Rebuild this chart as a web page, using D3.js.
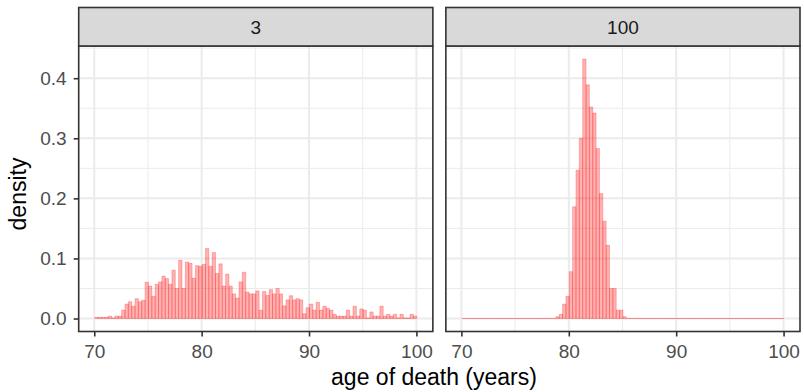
<!DOCTYPE html>
<html>
<head>
<meta charset="utf-8">
<script src="https://cdn.jsdelivr.net/npm/d3@7"></script>
<style>
  body { margin: 0; background: #fff; }
  svg { display: block; font-family: "Liberation Sans", Arial, sans-serif; }
</style>
</head>
<body>
<div id="chart"></div>
<script>
// facet labels
const facets = ['3', '100'];

// histogram bins (years)
const binStart = 70.05;
const binWidth = 0.3123;

const xTicks = [70, 80, 90, 100];
const yTicks = [0, 0.1, 0.2, 0.3, 0.4];

// density per bin, facet "3"
const density3 = [
    0.002, 0.002, 0.002, 0.002, 0.004, 0.001, 0.004, 0.004, 0.014, 0.024, 0.028, 0.0205,
    0.033, 0.028, 0.0305, 0.0605, 0.054, 0.037, 0.057, 0.061, 0.0705, 0.0665, 0.057, 0.0805,
    0.05, 0.097, 0.05, 0.094, 0.092, 0.067, 0.088, 0.087, 0.090, 0.1167, 0.087, 0.110,
    0.075, 0.091, 0.054, 0.074, 0.054, 0.041, 0.034, 0.061, 0.077, 0.044, 0.041, 0.041,
    0.046, 0.0138, 0.045, 0.0385, 0.048, 0.041, 0.050, 0.041, 0.021, 0.031, 0.038, 0.031,
    0.033, 0.031, 0.008, 0.018, 0.024, 0.014, 0.027, 0.014, 0.0205, 0.017, 0.014, 0.007,
    0.004, 0.004, 0.004, 0.014, 0.004, 0.0205, 0.004, 0.016, 0.014, 0.001, 0.011, 0.004,
    0.004, 0.0205, 0.004, 0.007, 0.004, 0.007, 0.001, 0.007, 0.001, 0.001, 0.007, 0.004
];

// density per bin, facet "100"
const density100 = [
    0, 0, 0, 0, 0, 0, 0, 0, 0, 0, 0, 0,
    0, 0, 0, 0, 0, 0, 0, 0, 0, 0, 0, 0,
    0, 0, 0, 0, 0.003, 0.007, 0.024, 0.037, 0.078, 0.186, 0.247, 0.300,
    0.432, 0.389, 0.352, 0.342, 0.283, 0.208, 0.162, 0.122, 0.050, 0.050, 0.014, 0.014,
    0.003, 0, 0, 0, 0, 0, 0, 0, 0, 0, 0, 0,
    0, 0, 0, 0, 0, 0, 0, 0, 0, 0, 0, 0,
    0, 0, 0, 0, 0, 0, 0, 0, 0, 0, 0, 0,
    0, 0, 0, 0, 0, 0, 0, 0, 0, 0, 0, 0
];

const panelData = [density3, density100];

const width = 804, height = 392;
const margin = { left: 78.7, top: 7.5, right: 4 };
const stripH = 38.5;
const panelTop = margin.top + stripH;
const panelH = 285.5;
const gap = 13;
const panelW = (width - margin.left - margin.right - gap) / 2;
const tickFont = 19, titleFont = 23;

const svg = d3.select('#chart').append('svg')
    .attr('width', width)
    .attr('height', height);

// scales (ggplot style 5% expansion)
const xLo = binStart, xHi = binStart + binWidth * density3.length;
const xPad = (xHi - xLo) * 0.05;
const x = d3.scaleLinear().domain([xLo - xPad, xHi + xPad]).range([0, panelW]);

const yMax = d3.max(panelData, arr => d3.max(arr));
const y = d3.scaleLinear().domain([-0.05 * yMax, 1.05 * yMax]).range([panelH, 0]);

const xMinor = [75, 85, 95];
const yMinor = [0.05, 0.15, 0.25, 0.35, 0.45].filter(v => v < y.domain()[1]);

facets.forEach(function(label, p) {
    const left = margin.left + p * (panelW + gap);
    const g = svg.append('g').attr('transform', `translate(${left},${panelTop})`);

    // background + grid
    g.append('rect').attr('width', panelW).attr('height', panelH).attr('fill', '#fff');

    g.selectAll('.xminor').data(xMinor).join('line')
        .attr('x1', d => x(d)).attr('x2', d => x(d))
        .attr('y1', 0).attr('y2', panelH)
        .attr('stroke', '#EBEBEB').attr('stroke-width', 1);
    g.selectAll('.yminor').data(yMinor).join('line')
        .attr('y1', d => y(d)).attr('y2', d => y(d))
        .attr('x1', 0).attr('x2', panelW)
        .attr('stroke', '#EBEBEB').attr('stroke-width', 1);
    g.selectAll('.xmajor').data(xTicks).join('line')
        .attr('x1', d => x(d)).attr('x2', d => x(d))
        .attr('y1', 0).attr('y2', panelH)
        .attr('stroke', '#EBEBEB').attr('stroke-width', 2);
    g.selectAll('.ymajor').data(yTicks).join('line')
        .attr('y1', d => y(d)).attr('y2', d => y(d))
        .attr('x1', 0).attr('x2', panelW)
        .attr('stroke', '#EBEBEB').attr('stroke-width', 2);

    // histogram bars
    g.selectAll('.bar').data(panelData[p]).join('path')
        .attr('class', 'bar')
        .attr('d', (d, i) => {
            const x0 = x(binStart + i * binWidth), x1 = x(binStart + (i + 1) * binWidth);
            return `M${x0},${y(0)}V${y(d)}H${x1}V${y(0)}Z`;
        })
        .attr('fill', 'rgba(255,0,0,0.3)')
        .attr('stroke', 'rgba(255,0,0,0.4)')
        .attr('stroke-width', 0.6);

    // panel border
    g.append('rect').attr('width', panelW).attr('height', panelH)
        .attr('fill', 'none').attr('stroke', '#333333').attr('stroke-width', 1.6);

    // strip
    const strip = svg.append('g').attr('transform', `translate(${left},${margin.top})`);
    strip.append('rect').attr('width', panelW).attr('height', stripH)
        .attr('fill', '#D9D9D9').attr('stroke', '#333333').attr('stroke-width', 1.6);
    strip.append('text')
        .attr('x', panelW / 2).attr('y', stripH / 2).attr('dy', '0.36em')
        .attr('text-anchor', 'middle')
        .attr('font-size', tickFont).attr('fill', '#1A1A1A')
        .text(label);

    // x axis
    const xa = g.append('g').attr('transform', `translate(0,${panelH})`)
        .call(d3.axisBottom(x).tickValues(xTicks).tickSize(5).tickPadding(8));
    xa.select('.domain').remove();
    xa.selectAll('line').attr('stroke', '#333333').attr('stroke-width', 1.6);
    xa.selectAll('text').attr('font-size', tickFont).attr('fill', '#4D4D4D')
        .attr('font-family', '"Liberation Sans", Arial, sans-serif');

    if (p === 0) {
        const ya = g.append('g')
            .call(d3.axisLeft(y).tickValues(yTicks).tickFormat(d3.format('.1f')).tickSize(5).tickPadding(7));
        ya.select('.domain').remove();
        ya.selectAll('line').attr('stroke', '#333333').attr('stroke-width', 1.6);
        ya.selectAll('text').attr('font-size', tickFont).attr('fill', '#4D4D4D')
            .attr('font-family', '"Liberation Sans", Arial, sans-serif');
    }
});

// axis titles
svg.append('text')
    .attr('x', 434).attr('y', 385)
    .attr('text-anchor', 'middle').attr('font-size', titleFont).attr('fill', '#000')
    .text('age of death (years)');

svg.append('text')
    .attr('transform', `translate(26,194) rotate(-90)`)
    .attr('text-anchor', 'middle').attr('font-size', titleFont).attr('fill', '#000')
    .text('density');
</script>
</body>
</html>
